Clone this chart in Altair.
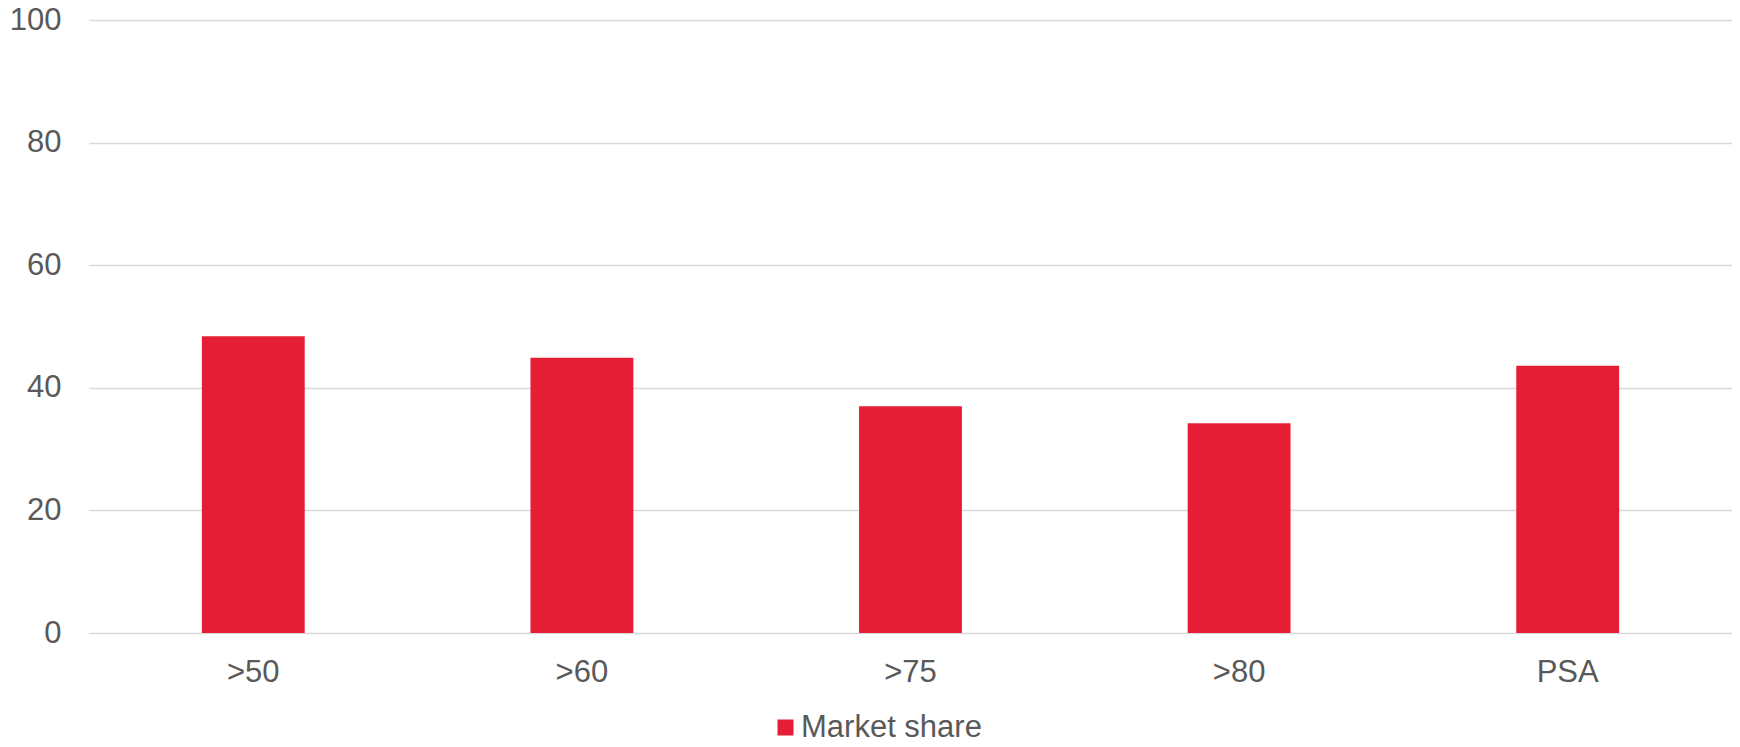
import altair as alt
import pandas as pd

categories = [">50", ">60", ">75", ">80", "PSA"]
values = [48.4, 44.9, 37.0, 34.2, 43.6]
series = ["Market share"] * len(categories)

df = pd.DataFrame({"cat": categories, "value": values, "series": series})

FONT = "Liberation Sans"
GREY = "#595959"
FS = 31

chart = alt.Chart(df).mark_bar().encode(
    x=alt.X("cat:N", sort=categories, title=None,
            scale=alt.Scale(paddingInner=0.687, paddingOuter=0.3435),
            axis=alt.Axis(labelAngle=0, labelFontSize=FS, labelColor=GREY, labelFont=FONT,
                          labelPadding=24, ticks=False, domain=False, grid=False)),
    y=alt.Y("value:Q", title=None,
            scale=alt.Scale(domain=[0, 100], nice=False),
            axis=alt.Axis(values=[0, 20, 40, 60, 80, 100], labelFontSize=FS, labelColor=GREY,
                          labelFont=FONT, labelPadding=28, ticks=False, domain=False,
                          gridColor="#d9d9d9", gridWidth=1.5)),
    color=alt.Color("series:N", title=None,
                    scale=alt.Scale(domain=["Market share"], range=["#E51E36"]),
                    legend=alt.Legend(orient="none", legendX=681, legendY=692,
                                      symbolType="square", symbolSize=256,
                                      symbolStrokeWidth=0, padding=0,
                                      labelFontSize=FS, labelColor=GREY, labelFont=FONT,
                                      labelLimit=500, labelOffset=0)),
).properties(
    width=1643, height=613,
    padding={"left": 81, "top": 12, "right": 0, "bottom": 106},
    autosize=alt.AutoSizeParams(type="none"),
).configure_view(stroke=None)

chart.save("out.html", embed_options={"renderer": "svg", "actions": False})
